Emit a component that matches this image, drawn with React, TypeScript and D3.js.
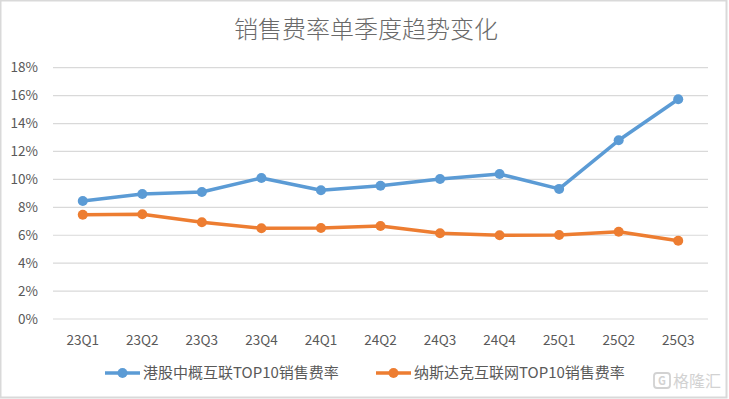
import * as d3 from "d3";

const quarters = ["23Q1", "23Q2", "23Q3", "23Q4", "24Q1", "24Q2", "24Q3", "24Q4", "25Q1", "25Q2", "25Q3"];
// 港股中概互联TOP10销售费率 (%)
const hkRates = [8.45, 8.95, 9.1, 10.1, 9.22, 9.55, 10.03, 10.38, 9.32, 12.8, 15.74];
// 纳斯达克互联网TOP10销售费率 (%)
const nasdaqRates = [7.47, 7.5, 6.93, 6.5, 6.52, 6.66, 6.14, 6.0, 6.02, 6.25, 5.6];
const yTicks = [0, 2, 4, 6, 8, 10, 12, 14, 16, 18];

const seriesNames = ["港股中概互联TOP10销售费率", "纳斯达克互联网TOP10销售费率"];
const colors = ["#5B9BD5", "#ED7D31"];

const W = 729;
const H = 399;
const FONT = "'Noto Sans CJK SC', 'Noto Sans', sans-serif";

export default function App() {
  const x = d3.scaleBand<string>().domain(quarters).range([53, 708]);
  const y = d3.scaleLinear().domain([0, 18]).range([319, 67.7]);
  const cx = (q: string) => (x(q) ?? 0) + x.bandwidth() / 2;

  const line = d3
    .line<number>()
    .x((_, i) => cx(quarters[i]))
    .y((d) => y(d));

  const series = [hkRates, nasdaqRates];
  const legendX = [105, 376];

  return (
    <svg
      width={W}
      height={H}
      style={{ position: "absolute", left: 0, top: 0, background: "#fff" }}
      fontFamily={FONT}
    >
      <rect x={0.5} y={0.5} width={726} height={397} fill="#fff" stroke="#d9d9d9" strokeWidth={2} />
      <text x={366} y={38} textAnchor="middle" fontSize={24} fontWeight={300} fill="#6a6a6a">
        销售费率单季度趋势变化
      </text>

      {yTicks.map((t) => (
        <g key={t}>
          <line x1={53} x2={708} y1={y(t)} y2={y(t)} stroke="#d9d9d9" strokeWidth={1.2} />
          <text x={38} y={y(t)} dy="0.35em" textAnchor="end" fontSize={13.5} fill="#595959">
            {t}%
          </text>
        </g>
      ))}

      {quarters.map((q) => (
        <text key={q} x={cx(q)} y={345} textAnchor="middle" fontSize={13.5} fill="#595959">
          {q}
        </text>
      ))}

      {series.map((s, si) => (
        <g key={si}>
          <path d={line(s) ?? ""} fill="none" stroke={colors[si]} strokeWidth={3.5} strokeLinejoin="round" />
          {s.map((v, i) => (
            <circle key={i} cx={cx(quarters[i])} cy={y(v)} r={5} fill={colors[si]} />
          ))}
        </g>
      ))}

      {seriesNames.map((name, si) => (
        <g key={name}>
          <line x1={legendX[si]} x2={legendX[si] + 35} y1={373} y2={373} stroke={colors[si]} strokeWidth={3.5} />
          <circle cx={legendX[si] + 17.5} cy={373} r={5} fill={colors[si]} />
          <text x={legendX[si] + 38} y={373} dy="0.35em" fontSize={15} fill="#595959">
            {name}
          </text>
        </g>
      ))}

      <g opacity={0.8}>
        <rect x={654} y={373} width={16} height={15} rx={3} fill="none" stroke="#c8c8c8" strokeWidth={1.8} />
        <text x={662} y={385} textAnchor="middle" fontSize={11} fontWeight="bold" fill="#c8c8c8">
          G
        </text>
        <text x={673} y={387} fontSize={16} fill="#c8c8c8">
          格隆汇
        </text>
      </g>
    </svg>
  );
}
